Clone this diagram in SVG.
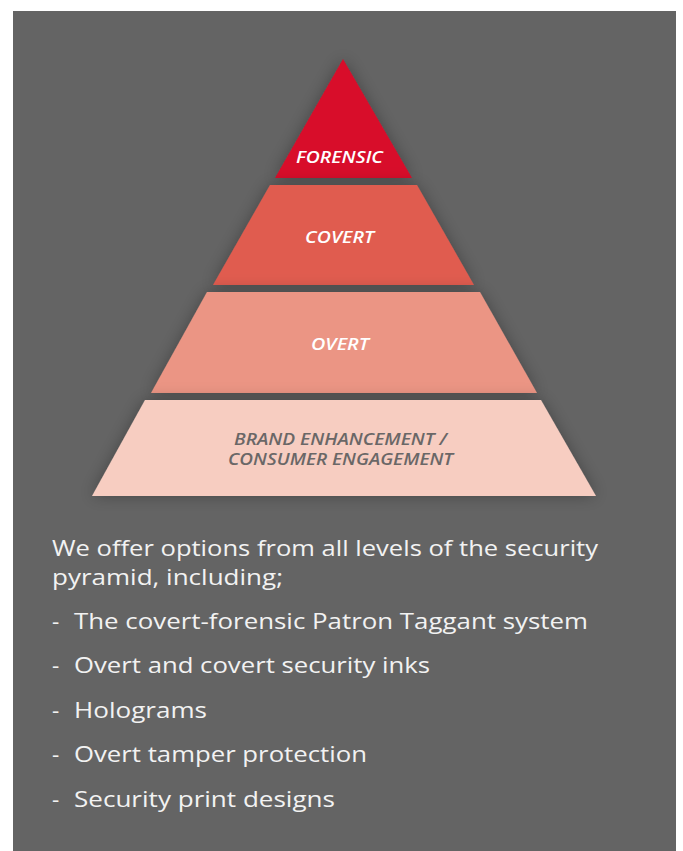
<svg xmlns="http://www.w3.org/2000/svg" width="683" height="851" viewBox="0 0 683 851">
<defs>
<filter id="sh" x="-30%" y="-30%" width="160%" height="160%">
<feDropShadow dx="0" dy="0" stdDeviation="8" flood-color="#000" flood-opacity="0.3"/>
</filter>
<style>
.lbl{font-family:"Open Sans","Noto Sans","Liberation Sans",sans-serif;font-style:italic;font-weight:600;font-size:15.5px;text-anchor:middle;fill:#ffffff}
.lbl2{fill:#6a6767}
.body{font-family:"Open Sans","Noto Sans","Liberation Sans",sans-serif;font-size:22.5px;fill:#f2f2f2}
</style>
</defs>
<rect x="0" y="0" width="683" height="851" fill="#ffffff"/>
<rect x="13" y="11" width="663" height="840" fill="#646464"/>
<g id="pyramid">
<g id="forensic">
<polygon points="343,59 412,178 275,178" fill="#d80a29" filter="url(#sh)"/>
<text class="lbl" x="339.5" y="163" textLength="87" lengthAdjust="spacingAndGlyphs">FORENSIC</text>
</g>
<g id="covert">
<polygon points="270,185 417,185 474,285 213,285" fill="#e05c4f" filter="url(#sh)"/>
<text class="lbl" x="339.5" y="243" textLength="69" lengthAdjust="spacingAndGlyphs">COVERT</text>
</g>
<g id="overt">
<polygon points="207,292 480,292 537,393 151,393" fill="#eb9584" filter="url(#sh)"/>
<text class="lbl" x="340" y="350" textLength="58" lengthAdjust="spacingAndGlyphs">OVERT</text>
</g>
<g id="brand">
<polygon points="145,400 541,400 596,496 92,496" fill="#f7cdc1" filter="url(#sh)"/>
<text class="lbl lbl2" x="340.5" y="445" textLength="213" lengthAdjust="spacingAndGlyphs">BRAND ENHANCEMENT /</text>
<text class="lbl lbl2" x="340.5" y="465" textLength="225" lengthAdjust="spacingAndGlyphs">CONSUMER ENGAGEMENT</text>
</g>
</g>
<g id="connectors"/>
<g id="body">
<text class="body" x="52" y="556" textLength="546" lengthAdjust="spacingAndGlyphs">We offer options from all levels of the security</text>
<text class="body" x="52" y="585" textLength="231" lengthAdjust="spacingAndGlyphs">pyramid, including;</text>
<text class="body" x="52" y="629">-</text><text class="body" x="74" y="629" textLength="514" lengthAdjust="spacingAndGlyphs">The covert-forensic Patron Taggant system</text>
<text class="body" x="52" y="673">-</text><text class="body" x="74" y="673" textLength="356" lengthAdjust="spacingAndGlyphs">Overt and covert security inks</text>
<text class="body" x="52" y="718">-</text><text class="body" x="74" y="718" textLength="133" lengthAdjust="spacingAndGlyphs">Holograms</text>
<text class="body" x="52" y="762">-</text><text class="body" x="74" y="762" textLength="293" lengthAdjust="spacingAndGlyphs">Overt tamper protection</text>
<text class="body" x="52" y="807">-</text><text class="body" x="74" y="807" textLength="261" lengthAdjust="spacingAndGlyphs">Security print designs</text>
</g>
</svg>
